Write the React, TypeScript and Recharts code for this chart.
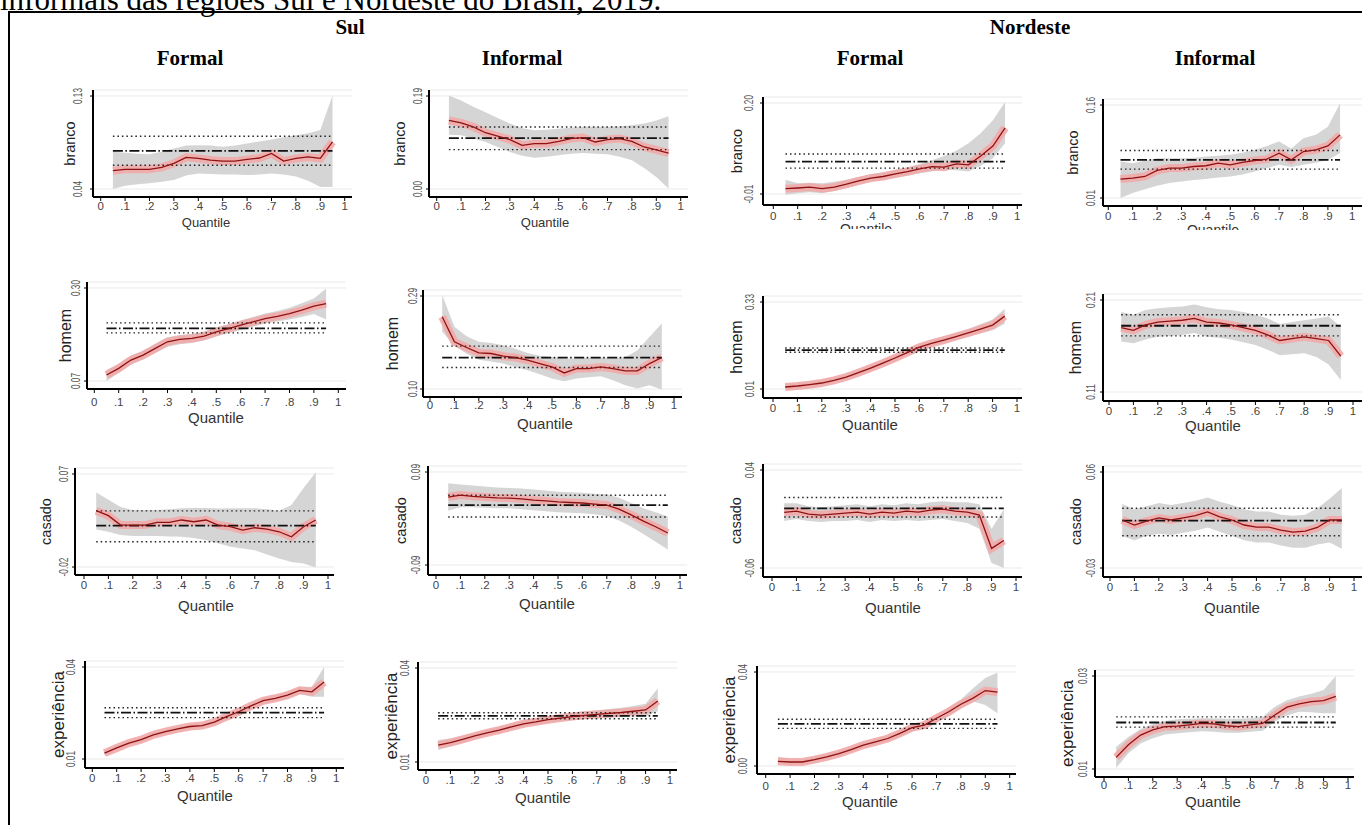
import React from 'react';
import { ComposedChart, Area, Line, XAxis, YAxis, CartesianGrid, ReferenceLine } from 'recharts';

const SANS = '"Liberation Sans", Arial, sans-serif';
const SERIF = '"Liberation Serif", "Times New Roman", serif';

const quantiles = [0.05, 0.1, 0.15, 0.2, 0.25, 0.3, 0.35, 0.4, 0.45, 0.5, 0.55, 0.6, 0.65, 0.7, 0.75, 0.8, 0.85, 0.9, 0.95];
const xTicks = [0, 0.1, 0.2, 0.3, 0.4, 0.5, 0.6, 0.7, 0.8, 0.9, 1];

// ols = [coef, lower, upper]

// Sul - Formal
const sfBrancoCoef = [0.0577, 0.059, 0.059, 0.059, 0.061, 0.0648, 0.0706, 0.0696, 0.068, 0.067, 0.067, 0.0686, 0.07, 0.0744, 0.067, 0.0696, 0.071, 0.0696, 0.0856];
const sfBrancoLo = [0.04, 0.0432, 0.0445, 0.0455, 0.047, 0.0487, 0.053, 0.055, 0.0545, 0.054, 0.054, 0.0535, 0.054, 0.055, 0.054, 0.052, 0.048, 0.042, 0.042];
const sfBrancoHi = [0.076, 0.075, 0.074, 0.0737, 0.076, 0.0792, 0.082, 0.0824, 0.082, 0.081, 0.082, 0.084, 0.086, 0.088, 0.09, 0.092, 0.094, 0.097, 0.1306];
const sfBrancoOls = [0.0769, 0.063, 0.091];

const sfHomemCoef = [0.0848, 0.1013, 0.1218, 0.134, 0.1506, 0.167, 0.1728, 0.1752, 0.181, 0.1915, 0.1998, 0.208, 0.2162, 0.2245, 0.23, 0.2368, 0.245, 0.2549, 0.2615];
const sfHomemLo = [0.07, 0.09, 0.11, 0.123, 0.139, 0.155, 0.161, 0.164, 0.17, 0.18, 0.188, 0.196, 0.204, 0.212, 0.217, 0.222, 0.228, 0.236, 0.222];
const sfHomemHi = [0.097, 0.112, 0.133, 0.145, 0.162, 0.178, 0.184, 0.187, 0.192, 0.203, 0.211, 0.22, 0.228, 0.237, 0.243, 0.251, 0.262, 0.274, 0.2985];
const sfHomemOls = [0.2, 0.189, 0.2137];

const sfCasadoCoef = [0.0345, 0.0297, 0.0206, 0.0206, 0.0206, 0.0232, 0.0232, 0.0255, 0.0238, 0.0255, 0.0206, 0.019, 0.0157, 0.018, 0.0167, 0.0141, 0.0092, 0.019, 0.0255];
const sfCasadoLo = [0.0164, 0.0141, 0.011, 0.0099, 0.0099, 0.0099, 0.0095, 0.0092, 0.008, 0.006, 0.003, -0.0005, -0.002, -0.0038, -0.008, -0.0118, -0.0151, -0.0167, -0.0206];
const sfCasadoHi = [0.052, 0.045, 0.038, 0.0352, 0.0352, 0.0352, 0.036, 0.0368, 0.037, 0.037, 0.0365, 0.0368, 0.0368, 0.0368, 0.036, 0.0345, 0.04, 0.0564, 0.0716];
const sfCasadoOls = [0.02, 0.0044, 0.0343];

const sfExpCoef = [0.0119, 0.0136, 0.0152, 0.0163, 0.0179, 0.0189, 0.0198, 0.0206, 0.0209, 0.022, 0.0238, 0.0254, 0.0273, 0.029, 0.0298, 0.0308, 0.0324, 0.0319, 0.0351];
const sfExpLo = [0.0111, 0.0129, 0.0145, 0.0156, 0.0172, 0.0182, 0.0191, 0.0199, 0.0202, 0.0212, 0.0229, 0.0245, 0.0264, 0.028, 0.0288, 0.0297, 0.0312, 0.0303, 0.0303];
const sfExpHi = [0.0127, 0.0143, 0.0159, 0.017, 0.0186, 0.0196, 0.0205, 0.0213, 0.0216, 0.0228, 0.0247, 0.0263, 0.0282, 0.03, 0.0308, 0.0319, 0.0336, 0.0336, 0.04];
const sfExpOls = [0.0251, 0.0235, 0.0267];

// Sul - Informal
const siBrancoCoef = [0.14, 0.135, 0.127, 0.115, 0.108, 0.101, 0.089, 0.0927, 0.0927, 0.0974, 0.103, 0.105, 0.096, 0.101, 0.103, 0.0974, 0.0858, 0.08, 0.0735];
const siBrancoLo = [0.111, 0.11, 0.103, 0.096, 0.086, 0.0756, 0.068, 0.064, 0.066, 0.0689, 0.072, 0.0735, 0.072, 0.071, 0.066, 0.0586, 0.043, 0.0245, 0.001];
const siBrancoHi = [0.191, 0.181, 0.168, 0.157, 0.145, 0.134, 0.124, 0.12, 0.121, 0.123, 0.125, 0.127, 0.127, 0.127, 0.128, 0.13, 0.134, 0.14, 0.1485];
const siBrancoOls = [0.104, 0.0805, 0.1267];

const siHomemCoef = [0.2476, 0.1963, 0.1848, 0.1738, 0.1725, 0.167, 0.1643, 0.1588, 0.152, 0.145, 0.1328, 0.1418, 0.1418, 0.145, 0.1418, 0.137, 0.137, 0.152, 0.1643];
const siHomemLo = [0.2168, 0.1896, 0.172, 0.16, 0.156, 0.152, 0.145, 0.1383, 0.13, 0.1213, 0.116, 0.1213, 0.124, 0.126, 0.118, 0.1076, 0.1008, 0.1076, 0.0988];
const siHomemHi = [0.292, 0.227, 0.208, 0.1963, 0.194, 0.1896, 0.182, 0.1738, 0.168, 0.1656, 0.162, 0.1623, 0.164, 0.1643, 0.163, 0.165, 0.179, 0.2066, 0.234];
const siHomemOls = [0.1643, 0.1439, 0.1875];

const siCasadoCoef = [0.0415, 0.0454, 0.043, 0.0415, 0.04, 0.0396, 0.038, 0.0357, 0.034, 0.032, 0.031, 0.03, 0.028, 0.026, 0.018, 0.007, -0.005, -0.016, -0.028];
const siCasadoLo = [0.015, 0.022, 0.022, 0.021, 0.02, 0.02, 0.018, 0.016, 0.014, 0.012, 0.011, 0.01, 0.008, 0.005, -0.004, -0.016, -0.03, -0.045, -0.06];
const siCasadoHi = [0.068, 0.066, 0.064, 0.062, 0.06, 0.059, 0.058, 0.056, 0.054, 0.052, 0.051, 0.05, 0.048, 0.047, 0.04, 0.03, 0.02, 0.012, 0.004];
const siCasadoOls = [0.026, 0.003, 0.045];

const siExpCoef = [0.0154, 0.0162, 0.0172, 0.0183, 0.0193, 0.0202, 0.0212, 0.0222, 0.0228, 0.0235, 0.024, 0.0245, 0.0249, 0.0252, 0.0255, 0.0258, 0.0262, 0.0266, 0.0295];
const siExpLo = [0.0138, 0.015, 0.0161, 0.0173, 0.0184, 0.0193, 0.0203, 0.0213, 0.0219, 0.0225, 0.023, 0.0234, 0.0237, 0.0239, 0.0241, 0.0243, 0.0245, 0.0246, 0.0262];
const siExpHi = [0.017, 0.0175, 0.0183, 0.0193, 0.0202, 0.0211, 0.0221, 0.0231, 0.0237, 0.0245, 0.025, 0.0256, 0.0261, 0.0265, 0.0269, 0.0273, 0.0279, 0.0286, 0.0335];
const siExpOls = [0.0247, 0.0238, 0.0257];

// Nordeste - Formal
const nfBrancoCoef = [0.0022, 0.0038, 0.006, 0.0022, 0.006, 0.0129, 0.0205, 0.0267, 0.0304, 0.0365, 0.0418, 0.048, 0.0533, 0.052, 0.0595, 0.0572, 0.0778, 0.1007, 0.1427];
const nfBrancoLo = [-0.0116, -0.008, -0.006, -0.008, -0.003, 0.0037, 0.011, 0.019, 0.023, 0.0267, 0.032, 0.038, 0.042, 0.0457, 0.045, 0.042, 0.055, 0.0725, 0.107];
const nfBrancoHi = [0.0228, 0.015, 0.016, 0.015, 0.018, 0.0228, 0.029, 0.0358, 0.04, 0.0457, 0.052, 0.0595, 0.068, 0.0778, 0.09, 0.107, 0.13, 0.16, 0.2023];
const nfBrancoOls = [0.0648, 0.0496, 0.0824];

const nfHomemCoef = [0.0174, 0.021, 0.026, 0.032, 0.042, 0.054, 0.07, 0.087, 0.105, 0.124, 0.144, 0.164, 0.178, 0.19, 0.203, 0.216, 0.23, 0.245, 0.278];
const nfHomemLo = [0.008, 0.012, 0.017, 0.023, 0.033, 0.045, 0.061, 0.078, 0.096, 0.115, 0.134, 0.153, 0.166, 0.178, 0.19, 0.202, 0.214, 0.226, 0.25];
const nfHomemHi = [0.027, 0.03, 0.035, 0.041, 0.051, 0.063, 0.079, 0.096, 0.114, 0.133, 0.154, 0.175, 0.19, 0.202, 0.216, 0.23, 0.248, 0.266, 0.305];
const nfHomemOls = [0.153, 0.145, 0.161];

const nfCasadoCoef = [-0.0033, -0.002, -0.005, -0.006, -0.005, -0.004, -0.003, -0.005, -0.003, -0.004, -0.002, -0.003, -0.001, 0, -0.002, -0.003, -0.006, -0.04, -0.032];
const nfCasadoLo = [-0.012, -0.01, -0.012, -0.013, -0.012, -0.012, -0.011, -0.013, -0.011, -0.012, -0.011, -0.012, -0.011, -0.01, -0.012, -0.014, -0.02, -0.055, -0.06];
const nfCasadoHi = [0.006, 0.006, 0.003, 0.002, 0.003, 0.004, 0.005, 0.003, 0.005, 0.004, 0.006, 0.005, 0.007, 0.008, 0.007, 0.007, 0.005, -0.02, 0];
const nfCasadoOls = [0.0008, -0.008, 0.012];

const nfExpCoef = [0.002, 0.0017, 0.0017, 0.0027, 0.0039, 0.0053, 0.007, 0.0089, 0.0103, 0.0117, 0.0139, 0.0163, 0.0174, 0.0203, 0.0231, 0.0263, 0.0289, 0.0321, 0.0314];
const nfExpLo = [0.001, 0.0007, 0.0007, 0.0017, 0.0029, 0.0043, 0.006, 0.0078, 0.0092, 0.0105, 0.0126, 0.0149, 0.016, 0.0188, 0.0214, 0.0245, 0.0274, 0.026, 0.0224];
const nfExpHi = [0.0039, 0.0028, 0.0028, 0.0038, 0.005, 0.0064, 0.0081, 0.01, 0.0114, 0.0129, 0.0152, 0.0177, 0.0189, 0.0219, 0.0249, 0.0283, 0.0331, 0.0374, 0.0398];
const nfExpOls = [0.0179, 0.016, 0.0199];

// Nordeste - Informal
const niBrancoCoef = [0.0405, 0.0422, 0.0447, 0.0544, 0.0582, 0.0582, 0.0608, 0.062, 0.0663, 0.0635, 0.0673, 0.0705, 0.0727, 0.0823, 0.0716, 0.085, 0.0877, 0.094, 0.1118];
const niBrancoLo = [0.01, 0.018, 0.024, 0.0298, 0.034, 0.0367, 0.039, 0.0405, 0.043, 0.0447, 0.048, 0.0528, 0.058, 0.0635, 0.06, 0.0635, 0.067, 0.0716, 0.0823];
const niBrancoHi = [0.0689, 0.066, 0.07, 0.0743, 0.0743, 0.0743, 0.075, 0.0769, 0.078, 0.0796, 0.083, 0.0877, 0.094, 0.101, 0.09, 0.1065, 0.112, 0.125, 0.1627];
const niBrancoOls = [0.0716, 0.0566, 0.0865];

const niHomemCoef = [0.18, 0.177, 0.183, 0.186, 0.187, 0.188, 0.19, 0.186, 0.185, 0.183, 0.18, 0.177, 0.172, 0.166, 0.168, 0.17, 0.168, 0.166, 0.149];
const niHomemLo = [0.165, 0.163, 0.167, 0.17, 0.171, 0.172, 0.174, 0.17, 0.169, 0.167, 0.164, 0.161, 0.156, 0.15, 0.151, 0.152, 0.148, 0.14, 0.123];
const niHomemHi = [0.197, 0.194, 0.199, 0.201, 0.202, 0.203, 0.205, 0.202, 0.2, 0.199, 0.197, 0.194, 0.19, 0.184, 0.186, 0.188, 0.19, 0.192, 0.181];
const niHomemOls = [0.182, 0.171, 0.194];

const niCasadoCoef = [0.015, 0.0103, 0.014, 0.0169, 0.015, 0.017, 0.019, 0.0225, 0.018, 0.015, 0.0103, 0.0084, 0.0084, 0.0056, 0.0037, 0.0045, 0.008, 0.015, 0.015];
const niCasadoLo = [0.0, -0.004, 0.0, 0.002, 0.001, 0.003, 0.005, 0.008, 0.004, 0.0, -0.004, -0.006, -0.006, -0.009, -0.011, -0.011, -0.008, -0.006, -0.012];
const niCasadoHi = [0.03, 0.025, 0.028, 0.031, 0.029, 0.031, 0.033, 0.036, 0.032, 0.029, 0.025, 0.023, 0.023, 0.02, 0.019, 0.02, 0.026, 0.035, 0.045];
const niCasadoOls = [0.0145, 0.0003, 0.026];

const niExpCoef = [0.0125, 0.0152, 0.0173, 0.0184, 0.0191, 0.0192, 0.0195, 0.0198, 0.0197, 0.0193, 0.0191, 0.0195, 0.0198, 0.0216, 0.0233, 0.024, 0.0245, 0.0247, 0.0256];
const niExpLo = [0.0102, 0.0134, 0.0155, 0.0166, 0.0174, 0.0177, 0.0179, 0.0181, 0.018, 0.0178, 0.0178, 0.018, 0.0182, 0.0202, 0.0215, 0.0223, 0.0222, 0.022, 0.022];
const niExpHi = [0.0148, 0.0169, 0.0186, 0.0197, 0.0203, 0.0207, 0.0208, 0.0209, 0.0209, 0.0208, 0.0208, 0.0209, 0.0212, 0.0234, 0.0248, 0.0256, 0.0262, 0.027, 0.03];
const niExpOls = [0.02, 0.019, 0.0212];

const UNIT = 244; // px per quantile unit
const PLOT_W = 259;
const LEFT = 46;
const RIGHT = 6;
const TOP = 4;
const BOTTOM = 40;

type Panel = {
  name: string; coef: number[]; lo: number[]; hi: number[]; ols: number[]; yTicks: number[];
  ax: number; x0: number; axY: number; tTop: number; tBot: number;
  tx: number; lx: number; ls: number; xty: number; qx: number; qy: number; qs: number; clipY?: number;
};

const panels: Panel[] = [
  { name: 'branco', coef: sfBrancoCoef, lo: sfBrancoLo, hi: sfBrancoHi, ols: sfBrancoOls, yTicks: [0.04, 0.13],
    ax: 93, x0: 100.7, axY: 197, tTop: 96, tBot: 189, tx: 11, lx: 18, ls: 14.5, xty: 9, qx: 113, qy: 25, qs: 13 },
  { name: 'branco', coef: siBrancoCoef, lo: siBrancoLo, hi: siBrancoHi, ols: siBrancoOls, yTicks: [0, 0.19],
    ax: 429, x0: 436.7, axY: 197, tTop: 96, tBot: 189, tx: 7, lx: 24, ls: 14.5, xty: 9, qx: 116, qy: 25, qs: 13 },
  { name: 'branco', coef: nfBrancoCoef, lo: nfBrancoLo, hi: nfBrancoHi, ols: nfBrancoOls, yTicks: [-0.01, 0.2],
    ax: 763, x0: 773.3, axY: 205, tTop: 103, tBot: 194, tx: 10, lx: 21, ls: 14.5, xty: 11, qx: 103, qy: 24, qs: 14, clipY: 229 },
  { name: 'branco', coef: niBrancoCoef, lo: niBrancoLo, hi: niBrancoHi, ols: niBrancoOls, yTicks: [0.01, 0.16],
    ax: 1103, x0: 1108.3, axY: 206, tTop: 105, tBot: 198, tx: 8, lx: 25, ls: 14.5, xty: 10, qx: 110, qy: 24, qs: 14, clipY: 230 },

  { name: 'homem', coef: sfHomemCoef, lo: sfHomemLo, hi: sfHomemHi, ols: sfHomemOls, yTicks: [0.07, 0.3],
    ax: 87, x0: 94.3, axY: 389, tTop: 288, tBot: 381, tx: 7, lx: 16, ls: 16, xty: 13, qx: 129, qy: 28, qs: 15 },
  { name: 'homem', coef: siHomemCoef, lo: siHomemLo, hi: siHomemHi, ols: siHomemOls, yTicks: [0.1, 0.29],
    ax: 423, x0: 430, axY: 397, tTop: 296, tBot: 389, tx: 6, lx: 25, ls: 16, xty: 8, qx: 122, qy: 26, qs: 15 },
  { name: 'homem', coef: nfHomemCoef, lo: nfHomemLo, hi: nfHomemHi, ols: nfHomemOls, yTicks: [0.01, 0.33],
    ax: 763, x0: 773, axY: 398, tTop: 302, tBot: 389, tx: 9, lx: 21, ls: 16, xty: 10, qx: 107, qy: 26, qs: 15 },
  { name: 'homem', coef: niHomemCoef, lo: niHomemLo, hi: niHomemHi, ols: niHomemOls, yTicks: [0.11, 0.21],
    ax: 1103, x0: 1109, axY: 401, tTop: 300, tBot: 392, tx: 8, lx: 22, ls: 16, xty: 10, qx: 110, qy: 24, qs: 15 },

  { name: 'casado', coef: sfCasadoCoef, lo: sfCasadoLo, hi: sfCasadoHi, ols: sfCasadoOls, yTicks: [-0.02, 0.07],
    ax: 75, x0: 84, axY: 575, tTop: 474, tBot: 567, tx: 7, lx: 24, ls: 14.5, xty: 10, qx: 131, qy: 30, qs: 15 },
  { name: 'casado', coef: siCasadoCoef, lo: siCasadoLo, hi: siCasadoHi, ols: siCasadoOls, yTicks: [-0.09, 0.09],
    ax: 428, x0: 436, axY: 575, tTop: 472, tBot: 565, tx: 8, lx: 22, ls: 14.5, xty: 10, qx: 119, qy: 28, qs: 15 },
  { name: 'casado', coef: nfCasadoCoef, lo: nfCasadoLo, hi: nfCasadoHi, ols: nfCasadoOls, yTicks: [-0.06, 0.04],
    ax: 763, x0: 772, axY: 577, tTop: 470, tBot: 568, tx: 9, lx: 22, ls: 14.5, xty: 10, qx: 130, qy: 30, qs: 15 },
  { name: 'casado', coef: niCasadoCoef, lo: niCasadoLo, hi: niCasadoHi, ols: niCasadoOls, yTicks: [-0.03, 0.06],
    ax: 1103, x0: 1110, axY: 577, tTop: 472, tBot: 568, tx: 8, lx: 22, ls: 14.5, xty: 10, qx: 129, qy: 30, qs: 15 },

  { name: 'experiência', coef: sfExpCoef, lo: sfExpLo, hi: sfExpHi, ols: sfExpOls, yTicks: [0.01, 0.04],
    ax: 85, x0: 92.3, axY: 768, tTop: 667, tBot: 759, tx: 10, lx: 21, ls: 17, xty: 10, qx: 120, qy: 27, qs: 15 },
  { name: 'experiência', coef: siExpCoef, lo: siExpLo, hi: siExpHi, ols: siExpOls, yTicks: [0.01, 0.04],
    ax: 418, x0: 426, axY: 770, tTop: 668, tBot: 762, tx: 9, lx: 21, ls: 17, xty: 10, qx: 125, qy: 27, qs: 15 },
  { name: 'experiência', coef: nfExpCoef, lo: nfExpLo, hi: nfExpHi, ols: nfExpOls, yTicks: [0, 0.04],
    ax: 757, x0: 765.7, axY: 774, tTop: 672, tBot: 766, tx: 10, lx: 22, ls: 17, xty: 12, qx: 113, qy: 27, qs: 15 },
  { name: 'experiência', coef: niExpCoef, lo: niExpLo, hi: niExpHi, ols: niExpOls, yTicks: [0.01, 0.03],
    ax: 1095, x0: 1104, axY: 777, tTop: 676, tBot: 769, tx: 8, lx: 22, ls: 17, xty: 8, qx: 118, qy: 24, qs: 15 },
];

const fmtX = (v: number) => (v === 0 ? '0' : v === 1 ? '1' : '.' + Math.round(v * 10));

function PanelChart({ p }: { p: Panel }) {
  const pxY = (p.tBot - p.tTop) / (p.yTicks[1] - p.yTicks[0]);
  const plotTop = p.tTop - 6;
  const plotH = p.axY - plotTop;
  const yDomain = [p.yTicks[0] - (p.axY - p.tBot) / pxY, p.yTicks[1] + 6 / pxY];
  const xLo = -(p.x0 - p.ax) / UNIT;
  const xDomain = [xLo, xLo + PLOT_W / UNIT];
  const width = LEFT + PLOT_W + RIGHT;
  const height = TOP + plotH + BOTTOM;
  const top = plotTop - TOP;
  const shownH = p.clipY ? p.clipY - top : height;
  const data = quantiles.map((q, i) => ({ q, coef: p.coef[i], band: [p.lo[i], p.hi[i]] }));
  const q0 = quantiles[0];
  const q1 = quantiles[quantiles.length - 1];
  const ly = TOP + plotH / 2;
  const lx = LEFT - p.lx;

  return (
    <div style={{ position: 'absolute', left: p.ax - LEFT, top, width, height: shownH, overflow: 'hidden' }}>
      <ComposedChart width={width} height={height} data={data} margin={{ top: TOP, right: RIGHT, bottom: 0, left: 0 }}>
        <CartesianGrid vertical={false} stroke="#e9e9e9" strokeWidth={1} />
        <XAxis
          type="number" dataKey="q" domain={xDomain} ticks={xTicks} interval={0} allowDataOverflow
          height={BOTTOM} tickSize={4}
          axisLine={{ stroke: '#000', strokeWidth: 2 }} tickLine={{ stroke: '#000' }}
          tick={(tp: any) => (
            <text x={tp.x} y={TOP + plotH + p.xty} textAnchor="middle" dominantBaseline="central"
              fontSize={11.5} fill="#444" fontFamily={SANS}>{fmtX(tp.payload.value)}</text>
          )}
          label={{ value: 'Quantile', content: () => (
            <text x={LEFT + p.qx} y={TOP + plotH + p.qy} textAnchor="middle" dominantBaseline="central"
              fontSize={p.qs} fill="#333" fontFamily={SANS}>Quantile</text>
          ) }}
        />
        <YAxis
          type="number" domain={yDomain} ticks={p.yTicks} interval={0} allowDataOverflow
          width={LEFT} tickSize={3}
          axisLine={{ stroke: '#000', strokeWidth: 2 }} tickLine={{ stroke: '#000' }}
          tick={(tp: any) => (
            <text transform={`translate(${LEFT - p.tx},${tp.y}) rotate(-90) scale(0.66,1)`} textAnchor="middle"
              fontSize={12.5} fill="#555" fontFamily={SANS}>{tp.payload.value.toFixed(2)}</text>
          )}
          label={{ value: p.name, content: () => (
            <text transform={`translate(${lx},${ly}) rotate(-90)`} textAnchor="middle"
              fontSize={p.ls} fill="#222" fontFamily={SANS}>{p.name}</text>
          ) }}
        />
        <Area type="linear" dataKey="band" stroke="none" fill="#d5d5d5" fillOpacity={1} isAnimationActive={false} />
        <Line type="linear" dataKey="coef" stroke="#f2aaaa" strokeWidth={8} strokeOpacity={0.9} dot={false} isAnimationActive={false} />
        <ReferenceLine segment={[{ x: q0, y: p.ols[1] }, { x: q1, y: p.ols[1] }]} stroke="#222" strokeWidth={1.4} strokeDasharray="1.5 3" />
        <ReferenceLine segment={[{ x: q0, y: p.ols[2] }, { x: q1, y: p.ols[2] }]} stroke="#222" strokeWidth={1.4} strokeDasharray="1.5 3" />
        <ReferenceLine segment={[{ x: q0, y: p.ols[0] }, { x: q1, y: p.ols[0] }]} stroke="#111" strokeWidth={1.8} strokeDasharray="10 2.5 1.5 2.5" />
        <Line type="linear" dataKey="coef" stroke="#8e1212" strokeWidth={1.3} dot={false} isAnimationActive={false} />
      </ComposedChart>
    </div>
  );
}

const headers = [
  { text: 'Sul', x: 350, y: 27 },
  { text: 'Nordeste', x: 1030, y: 27 },
  { text: 'Formal', x: 190, y: 58 },
  { text: 'Informal', x: 522, y: 58 },
  { text: 'Formal', x: 870, y: 58 },
  { text: 'Informal', x: 1215, y: 58 },
];

export default function App() {
  return (
    <div style={{ position: 'absolute', left: 0, top: 0, width: 1362, height: 825, overflow: 'hidden', background: '#fff' }}>
      <div style={{ position: 'absolute', left: 0, top: -16, fontFamily: SERIF, fontSize: 31, lineHeight: '31px', whiteSpace: 'nowrap', color: '#000' }}>
        informais das regiões Sul e Nordeste do Brasil, 2019.
      </div>
      <div style={{ position: 'absolute', left: 8, top: 11, width: 1400, height: 900, border: '2px solid #000' }} />
      {headers.map((h, i) => (
        <div key={i} style={{ position: 'absolute', left: h.x, top: h.y - 12, transform: 'translateX(-50%)', fontFamily: SERIF, fontWeight: 'bold', fontSize: 21, lineHeight: '24px', whiteSpace: 'nowrap', color: '#000' }}>
          {h.text}
        </div>
      ))}
      {panels.map((p, i) => <PanelChart key={i} p={p} />)}
    </div>
  );
}
